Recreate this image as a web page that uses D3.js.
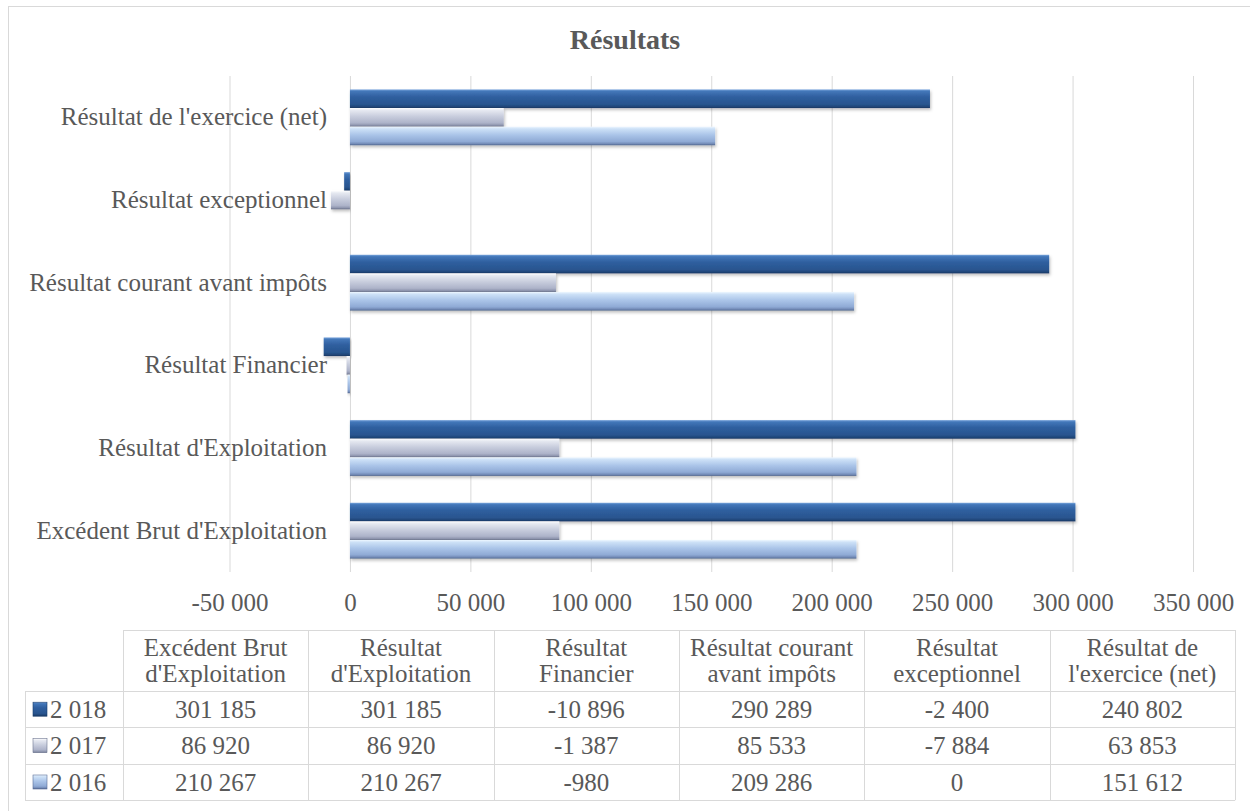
<!DOCTYPE html>
<html>
<head>
<meta charset="utf-8">
<script src="https://cdn.jsdelivr.net/npm/d3@7"></script>
<style>
	body { margin: 0; background: #fff; }
	text { font-family: "Liberation Serif", "DejaVu Serif", serif; fill: #595959; }
</style>
</head>
<body>
<div class="chart"></div>
<script>
const svgWidth = 1250
const svgHeight = 811

// data, in table order (bottom to top on the chart)
const categories = [
	"Excédent Brut d'Exploitation",
	"Résultat d'Exploitation",
	"Résultat Financier",
	"Résultat courant avant impôts",
	"Résultat exceptionnel",
	"Résultat de l'exercice (net)"
]
const headerLines = [
	["Excédent Brut", "d'Exploitation"],
	["Résultat", "d'Exploitation"],
	["Résultat", "Financier"],
	["Résultat courant", "avant impôts"],
	["Résultat", "exceptionnel"],
	["Résultat de", "l'exercice (net)"]
]
const seriesNames = ["2 018", "2 017", "2 016"]
const values2018 = [301185, 301185, -10896, 290289, -2400, 240802]
const values2017 = [86920, 86920, -1387, 85533, -7884, 63853]
const values2016 = [210267, 210267, -980, 209286, 0, 151612]
const xTicks = [-50000, 0, 50000, 100000, 150000, 200000, 250000, 300000, 350000]

const seriesValues = [values2018, values2017, values2016]

let plot = { top: 76, bottom: 572 }
let fontSize = "25px"

let svg = d3.select(".chart")
	.append("svg")
	.attr("width", svgWidth)
	.attr("height", svgHeight)

let fr = d3.formatLocale({ decimal: ",", thousands: " ", grouping: [3], currency: ["", ""], minus: "-" })
let fmt = fr.format(",.0f")

// bevel-ish gradients
let defs = svg.append("defs")
let gradStops = [
	[["0%", "#7aa5dc"], ["10%", "#4377b9"], ["40%", "#2f5f9f"], ["80%", "#29558f"], ["93%", "#1f4578"], ["100%", "#173660"]],
	[["0%", "#ffffff"], ["12%", "#e6e9f1"], ["45%", "#c8cddd"], ["80%", "#adb3c9"], ["93%", "#8d94ad"], ["100%", "#626981"]],
	[["0%", "#eef7ff"], ["12%", "#cde1f7"], ["45%", "#aac4e8"], ["80%", "#8faad5"], ["93%", "#7189b5"], ["100%", "#4e6289"]]
]
gradStops.forEach((stops, i) => {
	let g = defs.append("linearGradient")
		.attr("id", "grad" + i)
		.attr("x1", 0).attr("y1", 0).attr("x2", 0).attr("y2", 1)
	stops.forEach(s => g.append("stop").attr("offset", s[0]).attr("stop-color", s[1]))
})
let shadow = defs.append("filter").attr("id", "shadow").attr("x", "-5%").attr("y", "-20%").attr("width", "110%").attr("height", "160%")
shadow.append("feDropShadow").attr("dx", 1).attr("dy", 2).attr("stdDeviation", 1.5).attr("flood-color", "#000").attr("flood-opacity", 0.25)

// frame
svg.append("rect")
	.attr("x", 8.5).attr("y", 6.5)
	.attr("width", svgWidth).attr("height", svgHeight)
	.attr("fill", "none")
	.attr("stroke", "#d9d9d9")

// title
svg.append("text")
	.attr("x", 625)
	.attr("y", 49)
	.attr("text-anchor", "middle")
	.style("font-size", "28px")
	.style("font-weight", "bold")
	.text("Résultats")

let x = d3.scaleLinear()
	.domain([-50000, 350000])
	.range([229.5, 1193])

let y = d3.scaleBand()
	.domain(categories.slice().reverse())
	.range([plot.top, plot.bottom])
	.paddingInner(0.325)
	.paddingOuter(0.1625)

let ySub = d3.scaleBand()
	.domain(d3.range(seriesNames.length))
	.range([0, y.bandwidth()])

// gridlines
let grid = svg.append("g")
	.attr("transform", `translate(0, ${plot.bottom})`)
	.call(d3.axisBottom(x).tickValues(xTicks).tickSize(-(plot.bottom - plot.top)).tickFormat(""))
grid.select(".domain").remove()
grid.selectAll("line").attr("stroke", "#d9d9d9")

// tick labels
let xAxis = svg.append("g")
	.attr("transform", `translate(0, ${plot.bottom})`)
	.call(d3.axisBottom(x).tickValues(xTicks).tickSize(0).tickPadding(21).tickFormat(fmt))
xAxis.select(".domain").remove()
xAxis.selectAll("text")
	.style("font-size", fontSize)
	.style("font-family", "'Liberation Serif', serif")
	.attr("fill", "#595959")

// category labels
let yAxis = svg.append("g")
	.attr("transform", "translate(327, 0)")
	.call(d3.axisLeft(y).tickSize(0).tickPadding(0))
yAxis.select(".domain").remove()
yAxis.selectAll("text")
	.style("font-size", fontSize)
	.style("font-family", "'Liberation Serif', serif")
	.attr("fill", "#595959")

// bars
seriesValues.forEach((vals, si) => {
	svg.append("g")
		.selectAll("rect")
		.data(vals.map((v, ci) => ({ cat: categories[ci], value: v })))
		.enter()
		.append("rect")
		.attr("x", d => x(Math.min(0, d.value)))
		.attr("y", d => y(d.cat) + ySub(si))
		.attr("width", d => Math.abs(x(d.value) - x(0)))
		.attr("height", ySub.bandwidth())
		.attr("fill", `url(#grad${si})`)
		.attr("filter", "url(#shadow)")
})

// data table
let table = { left: 25, colStart: 123, right: 1235, top: 630, headBottom: 691, rowH: 36.4 }
let xCol = d3.scaleBand()
	.domain(categories)
	.range([table.colStart, table.right])
let rowY = i => table.headBottom + i * table.rowH

let tg = svg.append("g")
let lineColor = "#d9d9d9"

tg.append("line")
	.attr("x1", table.colStart).attr("x2", table.right)
	.attr("y1", table.top + 0.5).attr("y2", table.top + 0.5)
	.attr("stroke", lineColor)
d3.range(seriesNames.length + 1).forEach(i => {
	tg.append("line")
		.attr("x1", table.left).attr("x2", table.right)
		.attr("y1", Math.round(rowY(i)) + 0.5).attr("y2", Math.round(rowY(i)) + 0.5)
		.attr("stroke", lineColor)
})
tg.append("line")
	.attr("x1", table.left + 0.5).attr("x2", table.left + 0.5)
	.attr("y1", table.headBottom).attr("y2", rowY(seriesNames.length))
	.attr("stroke", lineColor)
categories.concat([null]).forEach((c, i) => {
	let xx = c ? xCol(c) : table.right
	tg.append("line")
		.attr("x1", Math.round(xx) + 0.5).attr("x2", Math.round(xx) + 0.5)
		.attr("y1", table.top).attr("y2", rowY(seriesNames.length))
		.attr("stroke", lineColor)
})

// header
categories.forEach((c, i) => {
	let t = tg.append("text")
		.attr("x", xCol(c) + xCol.bandwidth() / 2)
		.attr("y", 656)
		.attr("text-anchor", "middle")
		.style("font-size", fontSize)
	headerLines[i].forEach((ln, k) => {
		t.append("tspan")
			.attr("x", xCol(c) + xCol.bandwidth() / 2)
			.attr("dy", k === 0 ? 0 : 26)
			.text(ln)
	})
})

// rows
seriesNames.forEach((name, si) => {
	let cy = rowY(si) + table.rowH / 2
	tg.append("rect")
		.attr("x", 33).attr("y", cy - 7)
		.attr("width", 14).attr("height", 14)
		.attr("fill", `url(#grad${si})`)
		.attr("stroke", d3.color(gradStops[si][5][1]).brighter(0.3))
		.attr("stroke-width", 0.6)
	tg.append("text")
		.attr("x", 50)
		.attr("y", cy)
		.attr("dy", "0.35em")
		.style("font-size", fontSize)
		.text(name)
	seriesValues[si].forEach((v, ci) => {
		tg.append("text")
			.attr("x", xCol(categories[ci]) + xCol.bandwidth() / 2)
			.attr("y", cy)
			.attr("dy", "0.35em")
			.attr("text-anchor", "middle")
			.style("font-size", fontSize)
			.text(fmt(v))
	})
})
</script>
</body>
</html>
